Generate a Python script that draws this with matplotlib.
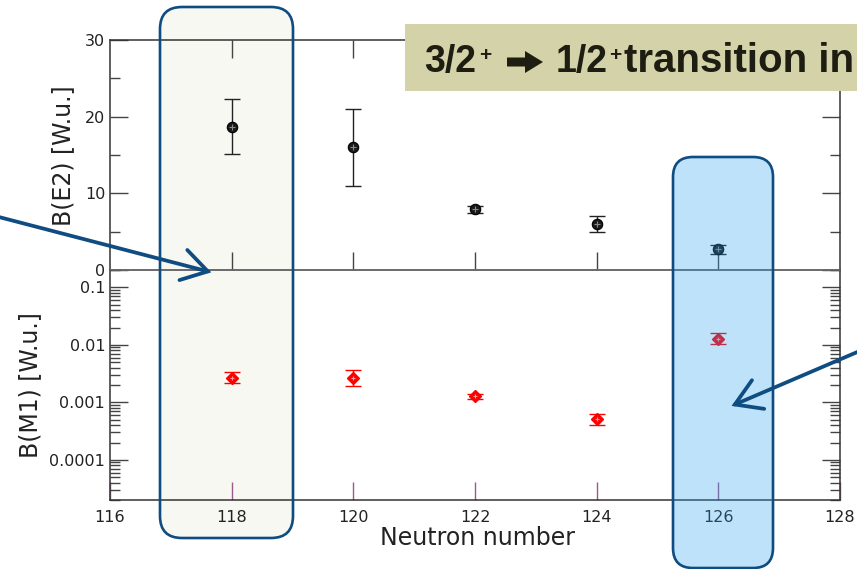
import matplotlib
matplotlib.use('Agg')
import numpy as np
import matplotlib.pyplot as plt
from matplotlib.patches import FancyBboxPatch, FancyArrowPatch, FancyArrow, Rectangle
from matplotlib.ticker import MultipleLocator, LogLocator, NullFormatter, FixedLocator

# data
neutrons = [118, 120, 122, 124, 126]
be2 = [18.7, 16.0, 7.9, 6.0, 2.7]
be2_err = [3.6, 5.0, 0.4, 1.0, 0.6]
bm1 = [0.0027, 0.0027, 0.00127, 0.00051, 0.0128]
bm1_lo = [0.00218, 0.00194, 0.00116, 0.00040, 0.0104]
bm1_hi = [0.00333, 0.00360, 0.00139, 0.000614, 0.0159]

x_ticks = [116, 118, 120, 122, 124, 126, 128]
be2_ticks = [0, 10, 20, 30]
bm1_ticks = [1e-4, 1e-3, 1e-2, 1e-1]
bm1_ticklabels = ['0.0001', '0.001', '0.01', '0.1']

W, H = 857, 569
fig = plt.figure(figsize=(W / 100, H / 100), dpi=100)
plt.rcParams['font.family'] = ['DejaVu Sans']

def frac(x0, y0, x1, y1):
    # pixel box (from top-left) -> figure fraction rect
    return [x0 / W, 1 - y1 / H, (x1 - x0) / W, (y1 - y0) / H]

def inch(x, y):
    return (x / 100, (H - y) / 100)

ax1 = fig.add_axes(frac(110, 40, 840, 270))
ax2 = fig.add_axes(frac(110, 270, 840, 500))

dark = '#222222'
for ax in (ax1, ax2):
    ax.set_facecolor('none')
    for s in ax.spines.values():
        s.set_linewidth(1.1)
        s.set_color('#333333')
    ax.set_xlim(116, 128)
    ax.tick_params(which='both', direction='in', colors='#444444', labelcolor=dark, labelsize=11.5)
    ax.tick_params(which='major', length=13, width=1.0)
    ax.tick_params(which='minor', length=7, width=1.0)
ax1.spines['bottom'].set_color('#666666')
ax2.spines['top'].set_color('#666666')

# upper panel: B(E2)
ax1.errorbar(neutrons, be2, yerr=be2_err, fmt='none', ecolor='#222222', elinewidth=1.0, capsize=6, capthick=1.0)
ax1.plot(neutrons, be2, 'o', ms=7.5, mfc='#1a1a1a', mec='black', mew=0.8)
ax1.plot(neutrons, be2, '+', ms=4, mec='#8a8a8a', mew=0.8)
ax1.set_ylim(0, 30)
ax1.yaxis.set_major_locator(FixedLocator(be2_ticks))
ax1.yaxis.set_minor_locator(MultipleLocator(5))
ax1.xaxis.set_major_locator(FixedLocator(neutrons))
ax1.tick_params(axis='x', which='both', top=True, bottom=True, labelbottom=False)
ax1.tick_params(axis='y', which='both', left=True, right=True)

# lower panel: B(M1)
bm1_err = [np.subtract(bm1, bm1_lo), np.subtract(bm1_hi, bm1)]
ax2.errorbar(neutrons, bm1, yerr=bm1_err, fmt='none', ecolor='red', elinewidth=1.0, capsize=6, capthick=1.0)
ax2.plot(neutrons, bm1, 'D', ms=6.5, mfc='red', mec='red', mew=1.0)
ax2.plot(neutrons, bm1, '+', ms=3.5, mec='#ff9a9a', mew=0.8)
ax2.set_yscale('log')
ax2.set_ylim(2e-5, 0.2)
ax2.yaxis.set_major_locator(FixedLocator(bm1_ticks))
ax2.set_yticklabels(bm1_ticklabels)
ax2.yaxis.set_minor_locator(LogLocator(base=10, subs=np.arange(2, 10)))
ax2.yaxis.set_minor_formatter(NullFormatter())
ax2.tick_params(axis='y', which='both', left=True, right=True)
ax2.xaxis.set_major_locator(FixedLocator(x_ticks))
ax2.tick_params(axis='x', which='major', top=False, bottom=True, color='#9a5a8c', pad=7)

fig.text(63 / W, 1 - 156 / H, 'B(E2) [W.u.]', rotation=90, ha='center', va='center', fontsize=17, color=dark)
fig.text(30 / W, 1 - 385 / H, 'B(M1) [W.u.]', rotation=90, ha='center', va='center', fontsize=17, color=dark)
fig.text(477 / W, 1 - 538 / H, 'Neutron number', ha='center', va='center', fontsize=17, color=dark)

# highlight boxes
edge = '#0f4c81'
# left box: fill sits behind the axes, outline on top
left_box = FancyBboxPatch(inch(160, 538), 133 / 100, 531 / 100, boxstyle='round,pad=0,rounding_size=0.22',
                          transform=fig.dpi_scale_trans, fc='#f7f8f2', ec='none', zorder=-1)
left_edge = FancyBboxPatch(inch(160, 538), 133 / 100, 531 / 100, boxstyle='round,pad=0,rounding_size=0.22',
                           transform=fig.dpi_scale_trans, fc='none', ec=edge, lw=1.9, zorder=3)
# right box: translucent blue over the data
right_box = FancyBboxPatch(inch(673, 568), 100 / 100, 411 / 100, boxstyle='round,pad=0,rounding_size=0.2',
                           transform=fig.dpi_scale_trans, fc='#2aa2ee', ec='none', alpha=0.3, zorder=3)
right_edge = FancyBboxPatch(inch(673, 568), 100 / 100, 411 / 100, boxstyle='round,pad=0,rounding_size=0.2',
                            transform=fig.dpi_scale_trans, fc='none', ec=edge, lw=1.9, zorder=3)
for p in (left_box, left_edge, right_box, right_edge):
    fig.patches.append(p)

# pointer arrows
for start, end in [((-5, 216), (214, 273)), ((862, 350), (729, 407))]:
    arr = FancyArrowPatch(inch(*start), inch(*end), transform=fig.dpi_scale_trans,
                          arrowstyle='->,head_length=0.65,head_width=0.4', mutation_scale=28,
                          lw=2.7, color=edge, zorder=4, capstyle='round', joinstyle='miter')
    fig.patches.append(arr)

# title banner
banner = Rectangle(inch(405, 91), 500 / 100, 67 / 100, transform=fig.dpi_scale_trans,
                   fc='#d4d2a8', ec='none', zorder=5)
fig.patches.append(banner)
tcol = '#1d1d12'
tfont = dict(family='Liberation Sans', fontweight='bold', color=tcol, zorder=6)
base_y = 1 - 72 / H
fig.text(424 / W, base_y, '3/2', ha='left', va='baseline', fontsize=27, **tfont)
fig.text(479 / W, 1 - 61 / H, '+', ha='left', va='baseline', fontsize=15, **tfont)
fig.text(556 / W, base_y, '1/2', ha='left', va='baseline', fontsize=27, **tfont)
fig.text(609 / W, 1 - 61 / H, '+', ha='left', va='baseline', fontsize=15, **tfont)
fig.text(624 / W, base_y, 'transition in', ha='left', va='baseline', fontsize=29, **tfont)
head = FancyArrow(507 / 100, (H - 62) / 100, 36 / 100, 0, width=9 / 100, head_width=22 / 100,
                  head_length=18 / 100, length_includes_head=True, transform=fig.dpi_scale_trans,
                  fc=tcol, ec='none', zorder=6)
fig.patches.append(head)

fig.savefig('out.png', dpi=100)
